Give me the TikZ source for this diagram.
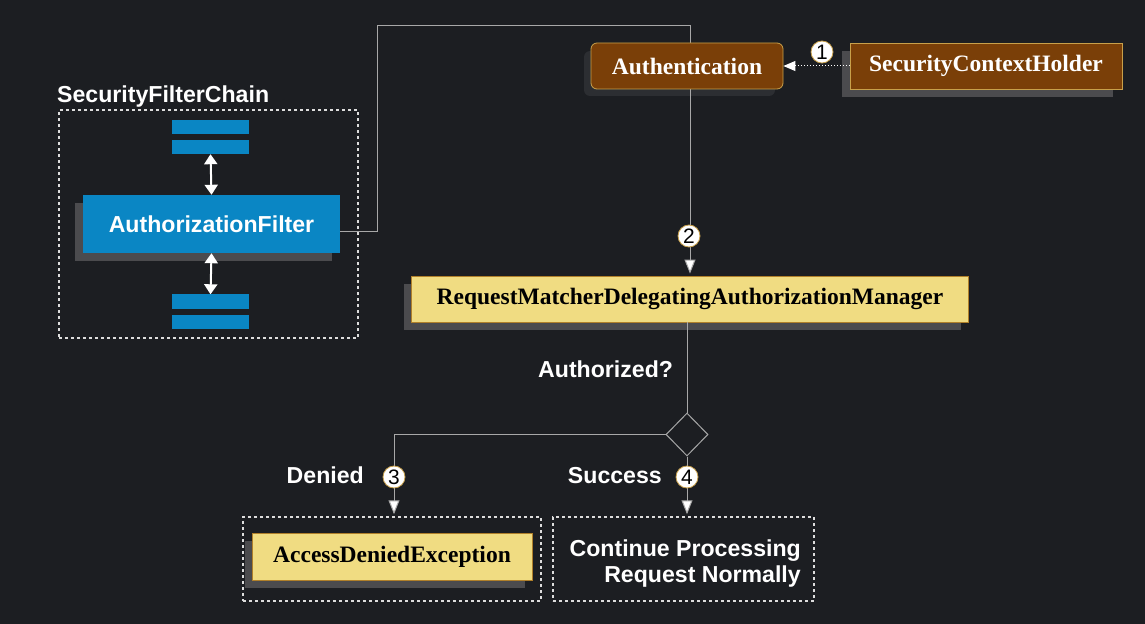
\documentclass[tikz,border=0pt]{standalone}
\usepackage{fontspec}
\setmainfont{Liberation Serif}
\setsansfont{Liberation Sans}
\usetikzlibrary{arrows.meta,shapes.geometric}
\definecolor{bg}{HTML}{1C1E22}
\definecolor{fblue}{HTML}{0A86C4}
\definecolor{shgrey}{HTML}{4B4B4E}
\definecolor{shdark}{HTML}{2C2E32}
\definecolor{brownfill}{HTML}{7A3F08}
\definecolor{brownline}{HTML}{C8A04A}
\definecolor{yfill}{HTML}{F0DC82}
\definecolor{yline}{HTML}{B0802A}
\definecolor{wiregrey}{HTML}{A8A8A8}
\definecolor{dashwhite}{HTML}{DDDDDD}
\begin{document}
\begin{tikzpicture}[x=1bp,y=-1bp,
  sansb/.style={font=\sffamily\bfseries\fontsize{23.2}{27}\selectfont},
  serifb/.style={font=\rmfamily\bfseries\fontsize{23.6}{27}\selectfont},
  shadowbox/.style={fill=shgrey, draw=none, inner sep=0pt},
  bluebox/.style={fill=fblue, draw=none, inner sep=0pt, text=white, sansb},
  bar/.style={fill=fblue, draw=none, inner sep=0pt, minimum width=77bp, minimum height=14bp},
  brownbox/.style={fill=brownfill, draw=brownline, line width=0.8bp, inner sep=0pt, text=white, serifb, minimum height=46bp},
  yellowbox/.style={fill=yfill, draw=yline, line width=0.8bp, inner sep=0pt, text=black, serifb},
  dashbox/.style={draw=dashwhite, line width=1.5bp, dash pattern=on 3bp off 3bp, inner sep=0pt},
  lbl/.style={text=white, sansb, inner sep=0pt},
  num/.style={circle, fill=white, draw=brownline, line width=0.8bp, inner sep=0pt, minimum size=22bp, text=black, font=\sffamily\fontsize{21}{22}\selectfont},
  wire/.style={draw=wiregrey, line width=1bp},
  tip/.style={-{Triangle[length=14bp,width=11bp,fill=white]}, shorten >=2bp},
  dbl/.style={draw=white, line width=2bp, {Triangle[length=10bp,width=13bp,fill=white]}-{Triangle[length=10bp,width=13bp,fill=white]}},
]
\useasboundingbox[fill=bg] (0,0) rectangle (1145,624);

% Security filter chain
\node[lbl, anchor=base west] (sfclbl) at (57,103) {SecurityFilterChain};
\node[dashbox, minimum width=299bp, minimum height=228bp] (sfc) at (208.5,224) {};
\node[bar] (b1) at (210.5,127) {};
\node[bar] (b2) at (210.5,147) {};
\node[bar] (b3) at (210.5,301.5) {};
\node[bar] (b4) at (210.5,321.5) {};
\node[shadowbox, minimum width=257bp, minimum height=58bp] (afsh) at (203.5,232) {};
\node[bluebox, minimum width=257bp, minimum height=58bp] (af) at (211.5,224) {AuthorizationFilter};
\draw[dbl] (b2.south) -- (af.north);
\draw[dbl] (af.south) -- (b3.north);

% Authentication / SecurityContextHolder
\node[fill=shdark, rounded corners=6bp, inner sep=0pt, minimum width=191bp, minimum height=45bp] (authsh) at (679.5,73.5) {};
\node[shadowbox, minimum width=271bp, minimum height=46bp] (schsh) at (977.5,74) {};
\node[yellowbox, minimum width=557bp, minimum height=46bp, fill=shgrey, draw=none] (rmsh) at (682.5,307) {};
\node[yellowbox, minimum width=557bp, minimum height=46bp] (rm) at (690,299) {RequestMatcherDelegatingAuthorizationManager};

\coordinate (w1) at (377,26);
\draw[wire, tip] ([yshift=-8bp]af.east) -| (w1) -| (rm.north);

\node[brownbox, rounded corners=6bp, minimum width=192bp] (auth) at (687,66) {Authentication};
\node[brownbox, minimum width=272bp] (sch) at (986,66) {SecurityContextHolder};
\draw[draw=white, line width=1bp, dotted, -{Triangle[length=12bp,width=10bp,fill=white]}] (sch.west) -- (auth.east);
\node[num] (n1) at (822,52) {1};
\node[num] (n2) at (689,236) {2};

% Decision
\node[lbl, anchor=base west] (authq) at (538,377) {Authorized?};
\node[diamond, aspect=1, draw=wiregrey, line width=1bp, fill=bg, inner sep=0pt, minimum width=42bp, minimum height=43bp] (dia) at (687,434.5) {};
\draw[wire] (rm.south -| dia.north) -- (dia.north);

% Outcomes
\node[dashbox, minimum width=298bp, minimum height=84bp] (denbox) at (392,559) {};
\node[shadowbox, minimum width=280bp, minimum height=47bp] (adsh) at (385,564) {};
\node[yellowbox, minimum width=280bp, minimum height=47bp] (ade) at (392,556.5) {AccessDeniedException};
\node[dashbox, minimum width=261bp, minimum height=84bp] (contbox) at (683.5,559) {};
\node[lbl, anchor=base east] (cont1) at (801,556) {Continue Processing};
\node[lbl, anchor=base east] (cont2) at (801,582) {Request Normally};

\draw[wire, tip] (dia.west) -| ([xshift=2bp]denbox.north);
\draw[wire, tip] (dia.south) -- (dia.south |- contbox.north);
\node[num] (n3) at (394,477) {3};
\node[num] (n4) at (687,477) {4};
\node[lbl, anchor=base east] (denlbl) at (364,483) {Denied};
\node[lbl, anchor=base east] (suclbl) at (662,483) {Success};
\end{tikzpicture}
\end{document}
